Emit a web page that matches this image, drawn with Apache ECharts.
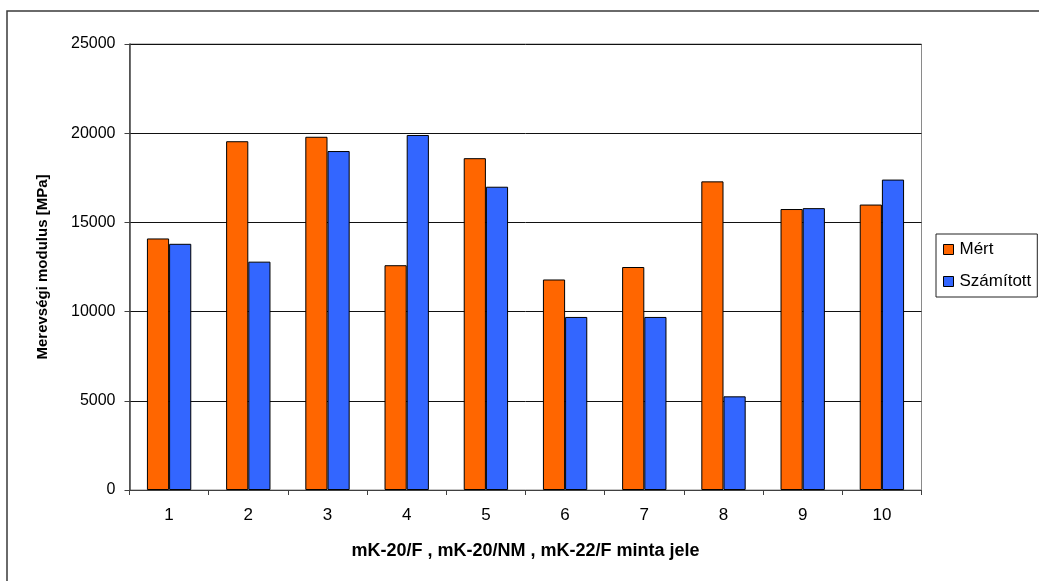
<!DOCTYPE html>
<html>
<head>
<meta charset="utf-8">
<script src="https://cdn.jsdelivr.net/npm/echarts@6/dist/echarts.min.js"></script>
<style>
  html, body { margin: 0; padding: 0; background: #fff; }
  #chart { width: 1039px; height: 581px; }
</style>
</head>
<body>
<div id="chart"></div>
<script>
// Minták jelölése és a két modulus-sorozat (MPa)
const categories = ['1', '2', '3', '4', '5', '6', '7', '8', '9', '10'];
const mertValues = [14100, 19550, 19800, 12600, 18600, 11800, 12500, 17300, 15750, 16000];
const szamitottValues = [13800, 12800, 19000, 19900, 17000, 9700, 9700, 5250, 15800, 17400];
const yTicks = { min: 0, max: 25000, interval: 5000 };

const FONT = '"Liberation Sans", Arial, sans-serif';
const FS = 17;

const chart = echarts.init(document.getElementById('chart'), null, { renderer: 'canvas' });

chart.setOption({
  animation: false,
  backgroundColor: '#ffffff',
  textStyle: { fontFamily: FONT, color: '#000' },
  graphic: [{
    type: 'rect',
    shape: { x: 7, y: 11, width: 1060, height: 600 },
    style: { fill: 'none', stroke: '#3a3a3a', lineWidth: 1.5 },
    silent: true
  }],
  grid: {
    left: 129.5, right: 117.5, top: 44, bottom: 91,
    show: true, borderColor: '#8a8a8a', borderWidth: 1, backgroundColor: 'transparent'
  },
  legend: {
    orient: 'vertical',
    left: 936, top: 234,
    padding: [7, 6, 7, 7],
    borderColor: '#222', borderWidth: 1,
    backgroundColor: '#fff',
    icon: 'rect',
    itemWidth: 10, itemHeight: 10,
    itemGap: 15,
    itemStyle: { borderColor: '#000', borderWidth: 1 },
    textStyle: { fontFamily: FONT, fontSize: FS, color: '#000', lineHeight: 17, padding: [0, 0, 0, 1] },
    data: ['Mért', 'Számított']
  },
  xAxis: {
    type: 'category',
    data: categories,
    name: 'mK-20/F , mK-20/NM , mK-22/F minta jele',
    nameLocation: 'middle',
    nameGap: 52,
    nameTextStyle: { fontFamily: FONT, fontSize: 18, fontWeight: 'bold', color: '#000' },
    axisLine: { lineStyle: { color: '#404040', width: 1 } },
    axisTick: { show: true, alignWithLabel: false, length: 5, lineStyle: { color: '#404040' } },
    axisLabel: { fontFamily: FONT, fontSize: FS, color: '#000', margin: 17 }
  },
  yAxis: {
    type: 'value',
    min: yTicks.min, max: yTicks.max, interval: yTicks.interval,
    name: 'Merevségi modulus [MPa]',
    nameLocation: 'middle',
    nameGap: 79,
    nameTextStyle: { fontFamily: FONT, fontSize: 15, fontWeight: 'bold', color: '#000' },
    axisLine: { show: true, lineStyle: { color: '#404040', width: 1.5 } },
    axisTick: { show: true, length: 5, lineStyle: { color: '#404040' } },
    axisLabel: { fontFamily: FONT, fontSize: 16, color: '#000', margin: 14, formatter: v => String(v) },
    splitLine: { show: true, lineStyle: { color: '#111', width: 1 } }
  },
  series: [
    {
      name: 'Mért',
      type: 'bar',
      data: mertValues,
      barGap: '0%',
      barCategoryGap: '44%',
      itemStyle: { color: '#FF6600', borderColor: '#000', borderWidth: 1 }
    },
    {
      name: 'Számított',
      type: 'bar',
      data: szamitottValues,
      barGap: '0%',
      barCategoryGap: '44%',
      itemStyle: { color: '#3366FF', borderColor: '#000', borderWidth: 1 }
    }
  ]
});
</script>
</body>
</html>
